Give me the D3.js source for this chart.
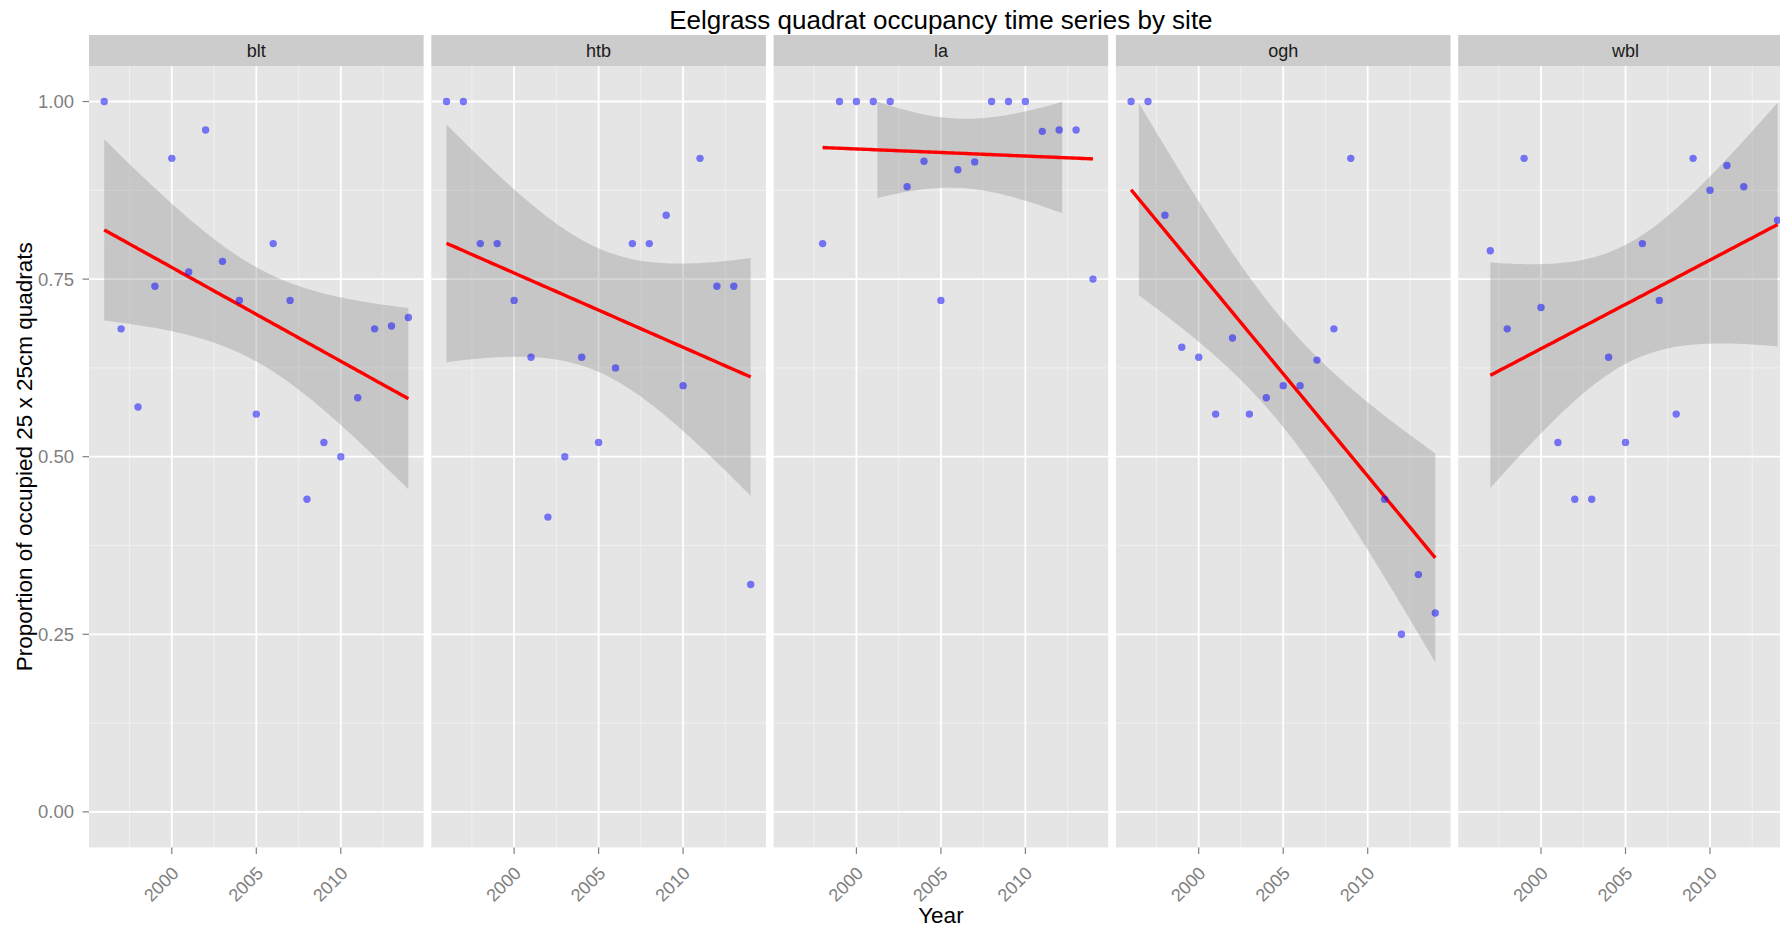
<!DOCTYPE html>
<html>
<head>
<meta charset="utf-8">
<script src="https://cdn.jsdelivr.net/npm/d3@7"></script>
<style>
  body { margin: 0; background: #fff; }
  svg { display: block; }
  text { font-family: "Liberation Sans", Arial, Helvetica, sans-serif; }
</style>
</head>
<body>
<svg id="chart" width="1780" height="928"></svg>
<script>
// ---------------- data ----------------
const sites = ["blt", "htb", "la", "ogh", "wbl"];

const bltYears  = [1996,1997,1998,1999,2000,2001,2002,2003,2004,2005,2006,2007,2008,2009,2010,2011,2012,2013,2014];
const bltValues = [1.00,0.68,0.57,0.74,0.92,0.76,0.96,0.775,0.72,0.56,0.80,0.72,0.44,0.52,0.50,0.583,0.68,0.684,0.696];

const htbYears  = [1996,1997,1998,1999,2000,2001,2002,2003,2004,2005,2006,2007,2008,2009,2010,2011,2012,2013,2014];
const htbValues = [1.00,1.00,0.80,0.80,0.72,0.64,0.415,0.50,0.64,0.52,0.625,0.80,0.80,0.84,0.60,0.92,0.74,0.74,0.32];

const laYears   = [1998,1999,2000,2001,2002,2003,2004,2005,2006,2007,2008,2009,2010,2011,2012,2013,2014];
const laValues  = [0.80,1.00,1.00,1.00,1.00,0.88,0.916,0.72,0.904,0.915,1.00,1.00,1.00,0.958,0.96,0.96,0.75];

const oghYears  = [1996,1997,1998,1999,2000,2001,2002,2003,2004,2005,2006,2007,2008,2009,2011,2012,2013,2014];
const oghValues = [1.00,1.00,0.84,0.654,0.64,0.56,0.667,0.56,0.583,0.60,0.60,0.636,0.68,0.92,0.44,0.25,0.334,0.28];

const wblYears  = [1997,1998,1999,2000,2001,2002,2003,2004,2005,2006,2007,2008,2009,2010,2011,2012,2014];
const wblValues = [0.79,0.68,0.92,0.71,0.52,0.44,0.44,0.64,0.52,0.80,0.72,0.56,0.92,0.875,0.91,0.88,0.833];

const siteYears  = { blt: bltYears, htb: htbYears, la: laYears, ogh: oghYears, wbl: wblYears };
const siteValues = { blt: bltValues, htb: htbValues, la: laValues, ogh: oghValues, wbl: wblValues };

const yTicks = [0, 0.25, 0.5, 0.75, 1];
const yTickLabels = ["0.00", "0.25", "0.50", "0.75", "1.00"];
const yMinor = [0.125, 0.375, 0.625, 0.875];
const xTicks = [2000, 2005, 2010];
const xTickLabels = ["2000", "2005", "2010"];
const xMinor = [1997.5, 2002.5, 2007.5, 2012.5];

const titleText = "Eelgrass quadrat occupancy time series by site";
const xTitle = "Year";
const yTitle = "Proportion of occupied 25 x 25cm quadrats";

// two-sided 95% t critical values by residual degrees of freedom
const tCrit = { 15: 2.1314, 16: 2.1199, 17: 2.1098 };

// ---------------- layout ----------------
const W = 1780, H = 928;
const panelLeft0 = 89, panelW = 334.6, panelGap = 7.7;
const panelTop = 66, panelBottom = 847.4;
const stripTop = 35, stripH = 31;

const svg = d3.select("#chart");

const x = d3.scaleLinear().domain([1995.1, 2014.9]).range([0, panelW]);
const y = d3.scaleLinear().domain([-0.05, 1.05]).range([panelBottom, panelTop]);

function fitLM(xs, ys) {
  const n = xs.length;
  const xbar = d3.mean(xs), ybar = d3.mean(ys);
  let sxx = 0, sxy = 0;
  xs.forEach((xi, i) => { sxx += (xi - xbar) ** 2; sxy += (xi - xbar) * (ys[i] - ybar); });
  const b = sxy / sxx, a = ybar - b * xbar;
  let sse = 0;
  xs.forEach((xi, i) => { sse += (ys[i] - (a + b * xi)) ** 2; });
  const s = Math.sqrt(sse / (n - 2));
  const t = tCrit[n - 2];
  const x0 = d3.min(xs), x1 = d3.max(xs);
  return d3.range(80).map(i => {
    const xv = x0 + (x1 - x0) * i / 79;
    const f = a + b * xv;
    const se = s * Math.sqrt(1 / n + (xv - xbar) ** 2 / sxx);
    return { x: xv, y: f, ymin: f - t * se, ymax: f + t * se };
  });
}

// title
svg.append("text")
  .attr("x", panelLeft0 + (5 * panelW + 4 * panelGap) / 2)
  .attr("y", 29)
  .attr("text-anchor", "middle")
  .attr("font-size", 26)
  .attr("fill", "#000")
  .text(titleText);

sites.forEach((site, k) => {
  const left = panelLeft0 + k * (panelW + panelGap);
  const g = svg.append("g").attr("transform", `translate(${left},0)`);

  const clipId = "clip-" + site;
  g.append("clipPath").attr("id", clipId)
    .append("rect").attr("x", 0).attr("y", panelTop).attr("width", panelW).attr("height", panelBottom - panelTop);

  // strip
  g.append("rect").attr("x", 0).attr("y", stripTop).attr("width", panelW).attr("height", stripH)
    .attr("fill", "#cccccc");
  g.append("text").attr("x", panelW / 2).attr("y", stripTop + stripH / 2 + 6.5)
    .attr("text-anchor", "middle").attr("font-size", 18).attr("fill", "#1a1a1a").text(site);

  // panel bg
  g.append("rect").attr("x", 0).attr("y", panelTop).attr("width", panelW).attr("height", panelBottom - panelTop)
    .attr("fill", "#e5e5e5");

  // minor grid
  g.selectAll(".xminor").data(xMinor).join("line")
    .attr("x1", d => x(d)).attr("x2", d => x(d)).attr("y1", panelTop).attr("y2", panelBottom)
    .attr("stroke", "#f2f2f2").attr("stroke-width", 0.9);
  g.selectAll(".yminor").data(yMinor).join("line")
    .attr("x1", 0).attr("x2", panelW).attr("y1", d => y(d)).attr("y2", d => y(d))
    .attr("stroke", "#f2f2f2").attr("stroke-width", 0.9);
  // major grid
  g.selectAll(".xmajor").data(xTicks).join("line")
    .attr("x1", d => x(d)).attr("x2", d => x(d)).attr("y1", panelTop).attr("y2", panelBottom)
    .attr("stroke", "#ffffff").attr("stroke-width", 1.8);
  g.selectAll(".ymajor").data(yTicks).join("line")
    .attr("x1", 0).attr("x2", panelW).attr("y1", d => y(d)).attr("y2", d => y(d))
    .attr("stroke", "#ffffff").attr("stroke-width", 1.8);

  const xs = siteYears[site], ys = siteValues[site];
  const fit = fitLM(xs, ys);
  const ribbonPts = fit.filter(p => p.ymin >= 0 && p.ymax <= 1);

  const plot = g.append("g").attr("clip-path", `url(#${clipId})`);

  plot.append("path").datum(ribbonPts)
    .attr("d", d3.area().x(p => x(p.x)).y0(p => y(p.ymin)).y1(p => y(p.ymax)))
    .attr("fill", "#999999").attr("fill-opacity", 0.4);

  plot.append("path").datum(fit)
    .attr("d", d3.line().x(p => x(p.x)).y(p => y(p.y)))
    .attr("fill", "none").attr("stroke", "#ff0000").attr("stroke-width", 3.4);

  plot.selectAll("circle").data(xs.map((xv, i) => ({ x: xv, y: ys[i] }))).join("circle")
    .attr("cx", d => x(d.x)).attr("cy", d => y(d.y)).attr("r", 3.7)
    .attr("fill", "#0000ff").attr("fill-opacity", 0.5);

  // x axis ticks & labels
  g.selectAll(".xtick").data(xTicks).join("line")
    .attr("x1", d => x(d)).attr("x2", d => x(d)).attr("y1", panelBottom).attr("y2", panelBottom + 6.5)
    .attr("stroke", "#7f7f7f").attr("stroke-width", 1.2);
  g.selectAll(".xlab").data(xTicks).join("text")
    .attr("transform", d => `translate(${x(d) + 8},${panelBottom + 27}) rotate(-45)`)
    .attr("text-anchor", "end").attr("font-size", 18).attr("fill", "#7f7f7f")
    .text((d, i) => xTickLabels[i]);

  if (k === 0) {
    g.selectAll(".ytick").data(yTicks).join("line")
      .attr("x1", -6.5).attr("x2", 0).attr("y1", d => y(d)).attr("y2", d => y(d))
      .attr("stroke", "#7f7f7f").attr("stroke-width", 1.2);
    g.selectAll(".ylab").data(yTicks).join("text")
      .attr("x", -15).attr("y", d => y(d)).attr("dy", "0.35em")
      .attr("text-anchor", "end").attr("font-size", 18.5).attr("fill", "#7f7f7f")
      .text((d, i) => yTickLabels[i]);
  }
});

// axis titles
svg.append("text")
  .attr("x", panelLeft0 + (5 * panelW + 4 * panelGap) / 2)
  .attr("y", 923)
  .attr("text-anchor", "middle").attr("font-size", 22.5).attr("fill", "#000")
  .text(xTitle);

svg.append("text")
  .attr("transform", `translate(32,${(panelTop + panelBottom) / 2}) rotate(-90)`)
  .attr("text-anchor", "middle").attr("font-size", 22.5).attr("fill", "#000")
  .text(yTitle);
</script>
</body>
</html>
